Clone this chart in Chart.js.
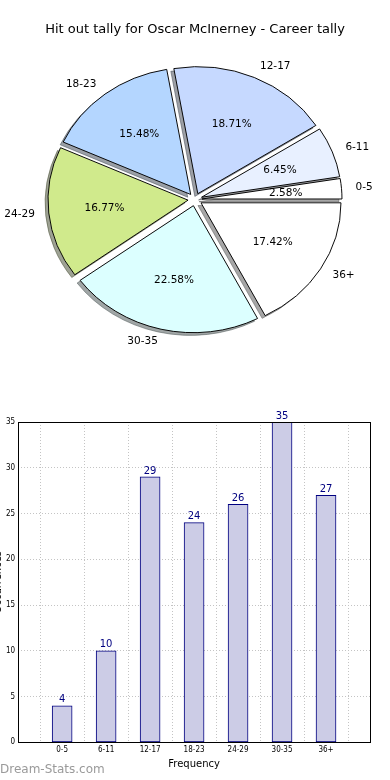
<!DOCTYPE html>
<html>
<head>
<meta charset="utf-8">
<script src="https://cdn.jsdelivr.net/npm/chart.js@4/dist/chart.umd.min.js"></script>
<style>
    body { margin: 0; background: #fff; width: 390px; height: 780px; overflow: hidden; position: relative; }
    #pieWrap { position: absolute; left: 0; top: 0; width: 390px; height: 390px; }
    #barWrap { position: absolute; left: 0; top: 390px; width: 390px; height: 390px; }
    #mark { position: absolute; left: 0; top: 762px; font: 12px 'DejaVu Sans', sans-serif; line-height: 14px; color: #9a9a9a; }
</style>
</head>
<body>
<div id="pieWrap"><canvas id="TallyPie"></canvas></div>
<div id="barWrap"><canvas id="TallyBars"></canvas></div>
<div id="mark">Dream-Stats.com</div>
<script>
// Chart data
const categories = ['0-5', '6-11', '12-17', '18-23', '24-29', '30-35', '36+'];
const tally = [4, 10, 29, 24, 26, 35, 27];
const sliceColors = ['#ffffff', '#e8f0ff', '#c6d9ff', '#b4d6ff', '#d0ea8c', '#dcffff', '#ffffff'];
const yTicks = [0, 5, 10, 15, 20, 25, 30, 35];

const titleText = 'Hit out tally for Oscar McInerney - Career tally';
const fontFamily = "'DejaVu Sans', sans-serif";

// pie looks stretched sideways in the original, so squash it a bit
const squash = 0.907;
const explode = 7;
const total = tally.reduce((a, b) => a + b, 0);

function shadowOf(hex) {
    const n = parseInt(hex.slice(1), 16);
    const r = Math.round(((n >> 16) & 255) * 0.3);
    const g = Math.round(((n >> 8) & 255) * 0.3);
    const b = Math.round((n & 255) * 0.3);
    return 'rgba(' + r + ',' + g + ',' + b + ',0.5)';
}

// matplotlib goes counter clockwise, chart.js clockwise -> reverse
const pieLabels = [...categories].reverse();
const pieValues = [...tally].reverse();
const pieColors = [...sliceColors].reverse();

const piePlugin = {
    id: 'explodedPie',
    afterDatasetsUpdate(chart) {
        const arcs = chart.getDatasetMeta(0).data;
        chart.$center = { x: arcs[0].x, y: arcs[0].y };
        arcs.forEach(a => {
            const mid = (a.startAngle + a.endAngle) / 2;
            a.x = chart.$center.x + Math.cos(mid) * explode;
            a.y = chart.$center.y + Math.sin(mid) * explode;
        });
    },
    beforeDatasetsDraw(chart) {
        const ctx = chart.ctx;
        const c = chart.$center;
        ctx.save();
        ctx.translate(c.x, c.y);
        ctx.scale(1, squash);
        ctx.translate(-c.x, -c.y);

        // shadows
        chart.getDatasetMeta(0).data.forEach((a, i) => {
            const sx = a.x - 3, sy = a.y + 3;
            ctx.beginPath();
            ctx.moveTo(sx, sy);
            ctx.arc(sx, sy, a.outerRadius, a.startAngle, a.endAngle);
            ctx.closePath();
            ctx.fillStyle = shadowOf(pieColors[i]);
            ctx.strokeStyle = shadowOf(pieColors[i]);
            ctx.lineWidth = 1;
            ctx.fill();
            ctx.stroke();
        });
    },
    afterDatasetsDraw(chart) {
        const ctx = chart.ctx;
        ctx.restore();

        const c = chart.$center;
        ctx.save();
        ctx.fillStyle = '#000';
        ctx.font = '10.5px ' + fontFamily;
        ctx.textBaseline = 'middle';
        chart.getDatasetMeta(0).data.forEach((a, i) => {
            const mid = (a.startAngle + a.endAngle) / 2;
            const r = a.outerRadius;

            const lr = explode + 1.1 * r;
            const lx = c.x + Math.cos(mid) * lr;
            const ly = c.y + Math.sin(mid) * lr * squash;
            ctx.textAlign = Math.cos(mid) >= 0 ? 'left' : 'right';
            ctx.fillText(pieLabels[i], lx, ly);

            const pr = explode + 0.6 * r;
            const px = c.x + Math.cos(mid) * pr;
            const py = c.y + Math.sin(mid) * pr * squash;
            ctx.textAlign = 'center';
            ctx.fillText((pieValues[i] / total * 100).toFixed(2) + '%', px, py);
        });
        ctx.restore();
    }
};

const pieConfig = {
    type: 'pie',
    data: {
        labels: pieLabels,
        datasets: [{
            data: pieValues,
            backgroundColor: pieColors,
            borderColor: '#000',
            borderWidth: 1,
            clip: false
        }]
    },
    options: {
        responsive: true,
        maintainAspectRatio: false,
        animation: false,
        events: [],
        rotation: 90,
        radius: 140,
        layout: { padding: { top: 0, bottom: 28.6, left: 0, right: 0 } },
        plugins: {
            legend: { display: false },
            tooltip: { enabled: false },
            title: {
                display: true,
                text: titleText,
                color: '#000',
                font: { family: fontFamily, size: 13, weight: 'normal' },
                padding: { top: 22, bottom: 0 }
            }
        }
    },
    plugins: [piePlugin]
};

new Chart(document.getElementById('TallyPie'), pieConfig);

// Bar chart: room for one empty slot each side like the original
const barLabels = ['', ...categories, ''];
const barValues = [null, ...tally, null];

const barPlugin = {
    id: 'barExtras',
    afterDraw(chart) {
        const ctx = chart.ctx;
        const area = chart.chartArea;

        // frame round the plot
        ctx.save();
        ctx.strokeStyle = '#000';
        ctx.lineWidth = 1;
        ctx.strokeRect(Math.round(area.left) + 0.5, Math.round(area.top) + 0.5,
            Math.round(area.right - area.left), Math.round(area.bottom - area.top));

        // value on top of each bar
        ctx.fillStyle = '#000080';
        ctx.font = '10px ' + fontFamily;
        ctx.textAlign = 'center';
        ctx.textBaseline = 'bottom';
        chart.getDatasetMeta(0).data.forEach((bar, i) => {
            if (barValues[i] == null) return;
            ctx.fillText(barValues[i], bar.x, bar.y - 1);
        });

        // y title, mostly cut off in the original
        ctx.translate(1, (area.top + area.bottom) / 2);
        ctx.rotate(-Math.PI / 2);
        ctx.fillStyle = '#000';
        ctx.font = '10px ' + fontFamily;
        ctx.textBaseline = 'alphabetic';
        ctx.fillText('Occurrences', 0, 0);
        ctx.restore();
    }
};

const tickFont = { family: "'DejaVu Sans Condensed', 'DejaVu Sans', sans-serif", size: 8 };

const barConfig = {
    type: 'bar',
    data: {
        labels: barLabels,
        datasets: [{
            data: barValues,
            backgroundColor: '#ccccE6',
            borderColor: '#000080',
            borderWidth: 1,
            borderSkipped: false,
            barThickness: 20
        }]
    },
    options: {
        responsive: true,
        maintainAspectRatio: false,
        animation: false,
        events: [],
        layout: { padding: { top: 32, bottom: 10, left: 3, right: 20 } },
        plugins: {
            legend: { display: false },
            tooltip: { enabled: false }
        },
        scales: {
            x: {
                offset: false,
                z: 1,
                grid: { color: '#c4c4c4', lineWidth: 1, drawTicks: false },
                border: { display: false, dash: [1, 2] },
                ticks: { color: '#000', font: tickFont, autoSkip: false, maxRotation: 0, padding: 3 },
                title: {
                    display: true,
                    text: 'Frequency',
                    color: '#000',
                    font: { family: fontFamily, size: 10 },
                    padding: { top: 0, bottom: 0 }
                }
            },
            y: {
                min: 0,
                max: 35,
                z: 1,
                afterBuildTicks: scale => { scale.ticks = yTicks.map(v => ({ value: v })); },
                grid: { color: '#c4c4c4', lineWidth: 1, drawTicks: false },
                border: { display: false, dash: [1, 2] },
                ticks: { color: '#000', font: tickFont, padding: 3 }
            }
        }
    },
    plugins: [barPlugin]
};

new Chart(document.getElementById('TallyBars'), barConfig);
</script>
</body>
</html>
